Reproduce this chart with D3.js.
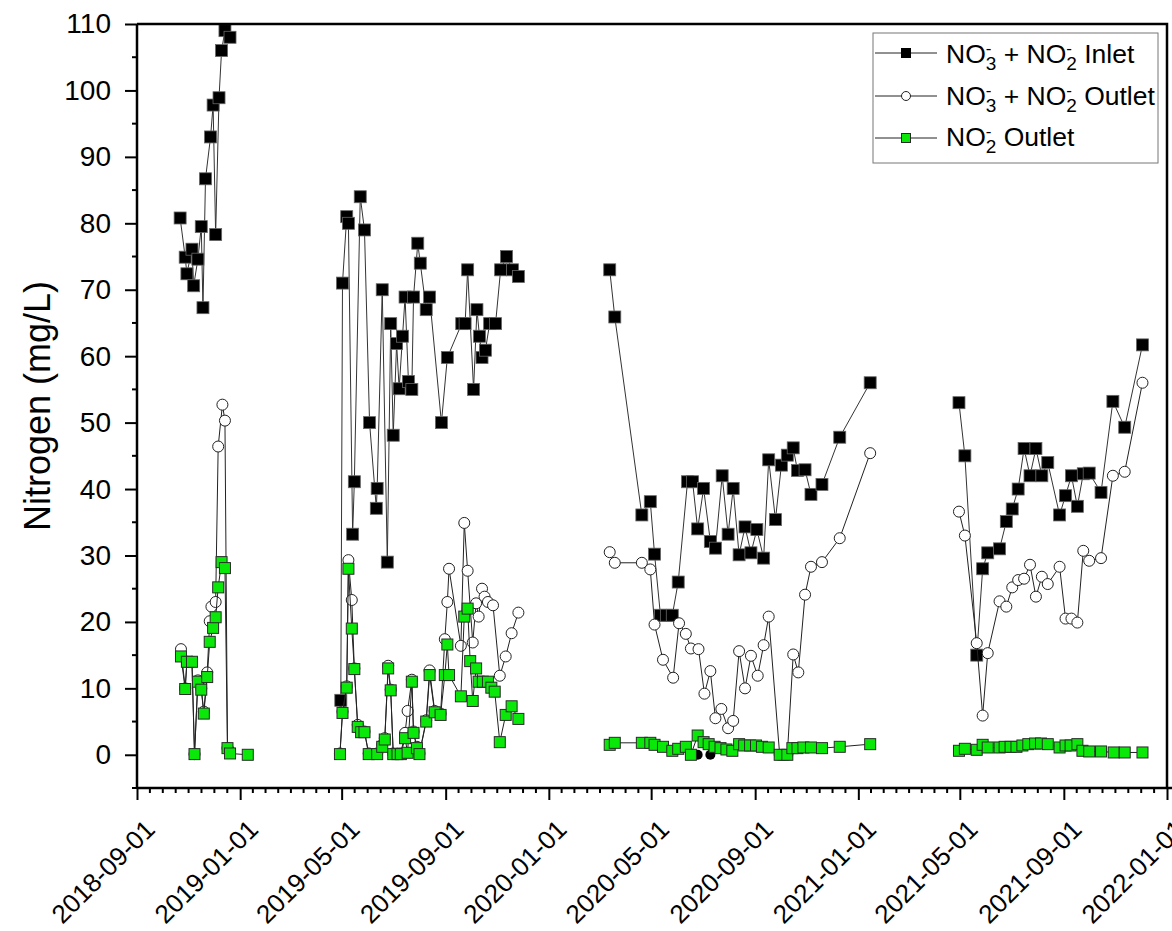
<!DOCTYPE html>
<html>
<head>
<meta charset="utf-8">
<script src="https://cdn.jsdelivr.net/npm/d3@7"></script>
<style>
  body { margin: 0; background: #fff; }
  svg text { font-family: "Liberation Sans", Arial, sans-serif; fill: #000; }
</style>
</head>
<body>
<div class="canvas"></div>
<script>
// ---- data ----
var inletDates = [
  "2018-10-22","2018-10-28","2018-10-30","2018-11-05","2018-11-07","2018-11-12","2018-11-16","2018-11-18",
  "2018-11-21","2018-11-27","2018-11-30","2018-12-03","2018-12-07","2018-12-10","2018-12-14","2018-12-20",
  "2019-04-30","2019-05-02","2019-05-07","2019-05-09","2019-05-14","2019-05-16","2019-05-23","2019-05-28",
  "2019-06-03","2019-06-11","2019-06-12","2019-06-18","2019-06-24","2019-06-28","2019-07-01","2019-07-05",
  "2019-07-08","2019-07-12","2019-07-15","2019-07-19","2019-07-23","2019-07-25","2019-07-30","2019-08-02",
  "2019-08-09","2019-08-13","2019-08-27","2019-09-03","2019-09-20","2019-09-24","2019-09-27","2019-10-04",
  "2019-10-08","2019-10-11","2019-10-14","2019-10-18","2019-10-23","2019-10-30","2019-11-05","2019-11-12",
  "2019-11-19","2019-11-26",
  "2020-03-13","2020-03-19","2020-04-20","2020-04-30","2020-05-05","2020-05-12","2020-05-19","2020-05-26",
  "2020-06-02","2020-06-13","2020-06-19","2020-06-25","2020-07-02","2020-07-10","2020-07-16","2020-07-24",
  "2020-07-31","2020-08-06","2020-08-13","2020-08-20","2020-08-27","2020-09-03","2020-09-11","2020-09-17",
  "2020-09-25","2020-10-02","2020-10-09","2020-10-16","2020-10-21","2020-10-30","2020-11-06","2020-11-19",
  "2020-12-10","2021-01-15",
  "2021-04-30","2021-05-07","2021-05-21","2021-05-28","2021-06-03","2021-06-17","2021-06-25","2021-07-02",
  "2021-07-09","2021-07-16","2021-07-23","2021-07-30","2021-08-06","2021-08-13","2021-08-27","2021-09-03",
  "2021-09-10","2021-09-17","2021-09-24","2021-10-01","2021-10-15","2021-10-29","2021-11-12","2021-12-03"
];
var inletN = [
  80.8,74.9,72.4,76.1,70.6,74.6,79.5,67.3,86.7,93,97.8,78.3,98.9,106,109,108,
  8.2,71,81,80,33.2,41.1,84,79,50,37.1,40.1,70,29,64.9,48.1,61.9,55.1,63,68.9,56.2,55,68.9,77,74,
  67,68.9,50,59.8,64.9,64.9,73,55,67,63,59.8,60.9,64.9,64.9,73,75,73,72,
  73,65.9,36.1,38.1,30.2,21,21,21,26,41.1,41.1,34,40.1,32.1,31.1,42,33.2,40.1,30.1,34.3,30.4,33.9,
  29.6,44.4,35.4,43.6,45.1,46.2,42.8,42.9,39.2,40.7,47.8,56,
  53,45,15,28,30.4,31,35.1,37,40,46.1,42,46.1,42,44,36.1,39,42,37.4,42.3,42.4,39.5,53.2,49.3,61.7
];

var outletDates = [
  "2018-10-23","2018-10-28","2018-10-30","2018-11-05","2018-11-08","2018-11-12","2018-11-16","2018-11-19",
  "2018-11-23","2018-11-26","2018-11-28","2018-12-03","2018-12-06","2018-12-11","2018-12-14","2018-12-17",
  "2018-12-20",
  "2019-04-29","2019-05-02","2019-05-07","2019-05-09","2019-05-13","2019-05-16","2019-05-20","2019-05-24",
  "2019-05-28","2019-06-02","2019-06-12","2019-06-18","2019-06-21","2019-06-25","2019-06-28","2019-07-01",
  "2019-07-06","2019-07-10","2019-07-15","2019-07-18","2019-07-23","2019-07-25","2019-07-29","2019-08-01",
  "2019-08-09","2019-08-13","2019-08-19","2019-08-26","2019-08-31","2019-09-03","2019-09-05","2019-09-19",
  "2019-09-23","2019-09-27","2019-10-03","2019-10-07","2019-10-10","2019-10-14","2019-10-17","2019-10-21",
  "2019-10-27","2019-11-04","2019-11-11","2019-11-18","2019-11-26",
  "2020-03-13","2020-03-19","2020-04-20","2020-04-30","2020-05-05","2020-05-15","2020-05-27","2020-06-03",
  "2020-06-11","2020-06-17","2020-06-26","2020-07-03","2020-07-10","2020-07-16","2020-07-23","2020-07-31",
  "2020-08-06","2020-08-13","2020-08-20","2020-08-27","2020-09-04","2020-09-11","2020-09-17","2020-09-30",
  "2020-10-09","2020-10-16","2020-10-22","2020-10-30","2020-11-06","2020-11-19","2020-12-10","2021-01-15",
  "2021-04-30","2021-05-07","2021-05-21","2021-05-28","2021-06-03","2021-06-17","2021-06-25","2021-07-02",
  "2021-07-09","2021-07-16","2021-07-23","2021-07-30","2021-08-06","2021-08-13","2021-08-27","2021-09-03",
  "2021-09-10","2021-09-17","2021-09-24","2021-10-01","2021-10-15","2021-10-29","2021-11-12","2021-12-03"
];
var outletN = [
  15.9,10.0,14.0,14.0,0.1,11.2,10.0,6.5,12.4,20.1,22.3,23.0,46.4,52.7,50.3,1.0,0.5,
  0.2,6.5,10.3,29.3,23.3,13.0,4.5,3.5,3.5,0.2,0.2,1.5,2.5,13.4,9.8,0.2,0.2,0.2,3.3,6.6,11.3,3.5,1.2,0.2,
  5.2,12.7,6.6,6.2,17.4,23.0,28.0,16.4,34.9,27.7,16.9,22.8,20.8,25.0,23.8,23.0,22.5,11.9,14.8,18.3,21.4,
  30.5,28.9,28.9,27.9,19.6,14.3,11.6,19.8,18.2,16.0,15.9,9.2,12.6,5.5,6.9,4.0,5.1,15.6,10.0,14.9,11.9,
  16.5,20.8,0,0,15.1,12.4,24.1,28.3,29.0,32.6,45.4,
  36.6,33.0,16.8,5.9,15.3,23.1,22.3,25.2,26.3,26.5,28.6,23.8,26.8,25.7,28.3,20.5,20.5,19.9,30.7,29.2,
  29.6,42.0,42.6,56.0
];

var nitriteDates = [
  "2018-10-23","2018-10-28","2018-10-30","2018-11-05","2018-11-08","2018-11-12","2018-11-16","2018-11-19",
  "2018-11-23","2018-11-26","2018-11-30","2018-12-03","2018-12-06","2018-12-10","2018-12-14","2018-12-17",
  "2018-12-20","2019-01-10",
  "2019-04-29","2019-05-02","2019-05-07","2019-05-09","2019-05-13","2019-05-16","2019-05-20","2019-05-24",
  "2019-05-28","2019-06-02","2019-06-12","2019-06-18","2019-06-21","2019-06-25","2019-06-28","2019-07-01",
  "2019-07-06","2019-07-10","2019-07-15","2019-07-18","2019-07-23","2019-07-25","2019-07-29","2019-08-01",
  "2019-08-09","2019-08-13","2019-08-19","2019-08-26","2019-08-31","2019-09-03","2019-09-05","2019-09-19",
  "2019-09-23","2019-09-27","2019-09-30","2019-10-03","2019-10-07","2019-10-10","2019-10-15","2019-10-21",
  "2019-10-25","2019-10-29","2019-11-04","2019-11-11","2019-11-18","2019-11-26",
  "2020-03-13","2020-03-19","2020-04-20","2020-04-30","2020-05-05","2020-05-15","2020-05-26","2020-06-02",
  "2020-06-11","2020-06-17","2020-06-25","2020-07-02","2020-07-08","2020-07-15","2020-07-22","2020-07-29",
  "2020-08-05","2020-08-13","2020-08-19","2020-08-26","2020-09-02","2020-09-09","2020-09-17","2020-09-30",
  "2020-10-09","2020-10-15","2020-10-21","2020-10-28","2020-11-06","2020-11-19","2020-12-10","2021-01-15",
  "2021-04-30","2021-05-07","2021-05-21","2021-05-28","2021-06-03","2021-06-17","2021-06-23","2021-06-30",
  "2021-07-07","2021-07-14","2021-07-21","2021-07-29","2021-08-05","2021-08-13","2021-08-27","2021-09-03",
  "2021-09-09","2021-09-17","2021-09-23","2021-10-01","2021-10-15","2021-10-30","2021-11-12","2021-12-03"
];
var nitriteN = [
  14.8,9.9,14.0,14.0,0.1,11.0,9.8,6.2,11.7,17.0,19.1,20.7,25.2,29.0,28.1,1.0,0.2,0,
  0.1,6.3,10.1,28.0,19.0,12.9,4.2,3.4,3.4,0.1,0.1,1.2,2.3,13.0,9.7,0.1,0.1,0.1,2.5,0.3,11.0,3.3,1.0,0.1,
  5.0,12.0,6.4,6.0,12.0,16.6,12.0,8.8,20.8,22.0,14.1,8.1,13.0,11.0,11.0,11.0,10.1,9.5,1.9,6.0,7.3,5.4,
  1.5,1.8,1.8,1.8,1.5,1.2,0.6,0.9,1.2,0,2.9,1.9,1.6,1.2,1.0,0.8,0.6,1.6,1.4,1.4,1.4,1.2,1.1,0,0,
  1.0,1.0,1.1,1.1,1.0,1.2,1.6,
  0.6,0.9,0.75,1.5,1.1,1.1,1.2,1.2,1.2,1.4,1.6,1.7,1.7,1.6,1.1,1.4,1.4,1.6,0.6,0.5,0.5,0.35,0.35,0.35
];

// two stray filled points at zero in mid 2020
var zeroDotDates = ["2020-06-25","2020-07-10"];
var zeroDotN = [0, 0];

var majorTickDates = ["2018-09-01","2019-01-01","2019-05-01","2019-09-01","2020-01-01","2020-05-01",
  "2020-09-01","2021-01-01","2021-05-01","2021-09-01","2022-01-01"];
var yTickValues = [0,10,20,30,40,50,60,70,80,90,100,110];

// ---- chart ----
var W = 1172, H = 931;
var pLeft = 137, pRight = 1167, pTop = 24, pBottom = 788;
var parse = d3.timeParse("%Y-%m-%d");

var svg = d3.select(".canvas").append("svg")
  .attr("width", W).attr("height", H);

var x = d3.scaleTime()
  .domain([parse("2018-09-01"), parse("2022-01-01")])
  .range([pLeft, pRight]);
var y = d3.scaleLinear().domain([-5, 110]).range([pBottom, pTop]);

function pts(dates, vals) {
  return dates.map(function(d, i){ return { date: parse(d), v: vals[i] }; });
}

// split into runs wherever sampling stopped for a while
function runs(p) {
  var out = [], cur = [];
  p.forEach(function(d, i){
    if (i > 0 && (d.date - p[i-1].date) > 60 * 864e5) { out.push(cur); cur = []; }
    cur.push(d);
  });
  out.push(cur);
  return out;
}

var line = d3.line().x(function(d){ return x(d.date); }).y(function(d){ return y(d.v); });

var inlet = pts(inletDates, inletN);
var outlet = pts(outletDates, outletN);
var nitrite = pts(nitriteDates, nitriteN);
var zeroDots = pts(zeroDotDates, zeroDotN);

var green = "#0ae80a";

// inlet
svg.append("g").selectAll("path").data(runs(inlet)).enter().append("path")
  .attr("d", line).attr("fill", "none").attr("stroke", "#333").attr("stroke-width", 1);
svg.append("g").selectAll("rect").data(inlet).enter().append("rect")
  .attr("x", function(d){ return x(d.date) - 6; })
  .attr("y", function(d){ return y(d.v) - 6; })
  .attr("width", 12).attr("height", 12)
  .attr("fill", "#000").attr("stroke", "#666").attr("stroke-width", 0.8);

// outlet
svg.append("g").selectAll("path").data(runs(outlet)).enter().append("path")
  .attr("d", line).attr("fill", "none").attr("stroke", "#222").attr("stroke-width", 1);
svg.append("g").selectAll("circle").data(outlet).enter().append("circle")
  .attr("cx", function(d){ return x(d.date); })
  .attr("cy", function(d){ return y(d.v); })
  .attr("r", 5.5)
  .attr("fill", "#fff").attr("stroke", "#222").attr("stroke-width", 1);

svg.append("g").selectAll("circle").data(zeroDots).enter().append("circle")
  .attr("cx", function(d){ return x(d.date); })
  .attr("cy", function(d){ return y(d.v); })
  .attr("r", 5)
  .attr("fill", "#000");

// nitrite
svg.append("g").selectAll("path").data(runs(nitrite)).enter().append("path")
  .attr("d", line).attr("fill", "none").attr("stroke", "#222").attr("stroke-width", 1);
svg.append("g").selectAll("rect").data(nitrite).enter().append("rect")
  .attr("x", function(d){ return x(d.date) - 5.5; })
  .attr("y", function(d){ return y(d.v) - 5.5; })
  .attr("width", 11).attr("height", 11)
  .attr("fill", green).attr("stroke", "#2a2a2a").attr("stroke-width", 1);

// frame
svg.append("path")
  .attr("d", "M" + pLeft + "," + pTop + "H" + pRight + "V" + pBottom)
  .attr("fill", "none").attr("stroke", "#000").attr("stroke-width", 2.5);

// y axis
var yAxis = svg.append("g").attr("transform", "translate(" + pLeft + ",0)")
  .call(d3.axisLeft(y).tickValues(yTickValues).tickSize(12).tickPadding(14).tickFormat(d3.format("d")));
yAxis.select(".domain").attr("stroke-width", 2.5).attr("d", "M0," + pBottom + "V" + pTop);
yAxis.selectAll(".tick line").attr("stroke-width", 2);
yAxis.selectAll(".tick text").attr("font-size", 28).attr("font-family", "Liberation Sans, Arial, sans-serif");

var yMinor = d3.range(-5, 111, 10);
svg.append("g").selectAll("line").data(yMinor).enter().append("line")
  .attr("x1", pLeft - 5).attr("x2", pLeft)
  .attr("y1", function(d){ return y(d); }).attr("y2", function(d){ return y(d); })
  .attr("stroke", "#000").attr("stroke-width", 2);

// x axis
var majors = majorTickDates.map(parse);
var xAxis = svg.append("g").attr("transform", "translate(0," + pBottom + ")")
  .call(d3.axisBottom(x).tickValues(majors).tickSize(12).tickFormat(d3.timeFormat("%Y-%m-%d")));
xAxis.select(".domain").attr("stroke-width", 2.5).attr("d", "M" + pLeft + ",0H" + W);
xAxis.selectAll(".tick line").attr("stroke-width", 2);
xAxis.selectAll(".tick text")
  .attr("font-size", 26).attr("font-family", "Liberation Sans, Arial, sans-serif")
  .attr("text-anchor", "end")
  .attr("x", 0).attr("y", 0).attr("dy", 0)
  .attr("transform", "translate(19,43) rotate(-45)");

var xMinor = [];
for (var i = 0; i < majors.length - 1; i++) {
  var a = +majors[i], b = +majors[i+1];
  for (var k = 1; k < 8; k++) xMinor.push(new Date(a + (b - a) * k / 8));
}
svg.append("g").selectAll("line").data(xMinor).enter().append("line")
  .attr("x1", function(d){ return x(d); }).attr("x2", function(d){ return x(d); })
  .attr("y1", pBottom).attr("y2", pBottom + 5)
  .attr("stroke", "#000").attr("stroke-width", 2);

// y title
svg.append("text")
  .attr("transform", "translate(50," + ((pTop + pBottom) / 2) + ") rotate(-90)")
  .attr("text-anchor", "middle")
  .attr("font-size", 36)
  .text("Nitrogen (mg/L)");

// legend
var legend = svg.append("g");
legend.append("rect")
  .attr("x", 873).attr("y", 33).attr("width", 285).attr("height", 130)
  .attr("fill", "#fff").attr("stroke", "#777").attr("stroke-width", 1);

var legendRows = [
  { parts: [["NO","-","3"], [" + NO","-","2"], [" Inlet"]], kind: "inlet", cy: 53, base: 63 },
  { parts: [["NO","-","3"], [" + NO","-","2"], [" Outlet"]], kind: "outlet", cy: 96, base: 105 },
  { parts: [["NO","-","2"], [" Outlet"]], kind: "nitrite", cy: 138, base: 146 }
];

legendRows.forEach(function(r){
  legend.append("line")
    .attr("x1", 875).attr("x2", 937).attr("y1", r.cy).attr("y2", r.cy)
    .attr("stroke", "#222").attr("stroke-width", 1);
  if (r.kind === "inlet") {
    legend.append("rect").attr("x", 901).attr("y", r.cy - 5).attr("width", 10).attr("height", 10)
      .attr("fill", "#000");
  } else if (r.kind === "outlet") {
    legend.append("circle").attr("cx", 906).attr("cy", r.cy).attr("r", 4.5)
      .attr("fill", "#fff").attr("stroke", "#222");
  } else {
    legend.append("rect").attr("x", 901.5).attr("y", r.cy - 4.5).attr("width", 9).attr("height", 9)
      .attr("fill", green).attr("stroke", "#2a2a2a");
  }
  var t = legend.append("text").attr("x", 946).attr("y", r.base).attr("font-size", 26.5);
  var back = 0;
  r.parts.forEach(function(p){
    t.append("tspan").attr("font-size", 26.5).attr("dy", back).text(p[0]);
    back = 0;
    if (p.length > 1) {
      t.append("tspan").attr("font-size", 17).attr("dy", -9).text(p[1]);
      t.append("tspan").attr("font-size", 19).attr("dx", -5.7).attr("dy", 16).text(p[2]);
      back = -7;
    }
  });
});
</script>
</body>
</html>
